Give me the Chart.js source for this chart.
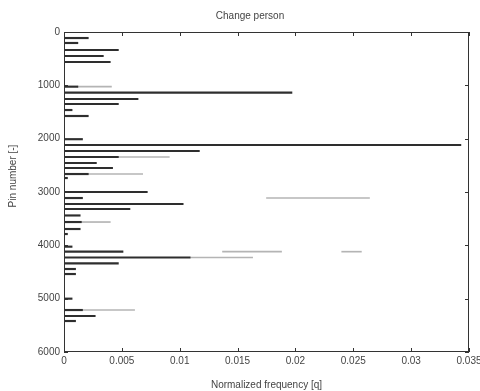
<!DOCTYPE html>
<html>
<head>
<meta charset="utf-8">
<script src="https://cdn.jsdelivr.net/npm/chart.js@4/dist/chart.umd.min.js"></script>
<style>
  html, body { margin: 0; padding: 0; background: #fff; }
  canvas { display: block; }
</style>
</head>
<body>
<canvas id="chart" width="480" height="391"></canvas>
<script>
// rows (pin number) and normalized frequency of each row
const rows = [113, 206, 338, 450, 563,
  1025, 1138, 1256, 1350, 1463, 1575,
  2010, 2119, 2231, 2344, 2456, 2550, 2663, 2738,
  3000, 3113, 3225, 3319, 3440, 3563, 3694, 3788,
  4025, 4119, 4228, 4338, 4444, 4538,
  5000, 5213, 5325, 5419];
const freq = [0.0021, 0.0012, 0.0047, 0.0034, 0.0040,
  0.0012, 0.0197, 0.0064, 0.0047, 0.0007, 0.0021,
  0.0016, 0.0343, 0.0117, 0.0047, 0.0028, 0.0042, 0.0021, 0.0003,
  0.0072, 0.0016, 0.0103, 0.0057, 0.0014, 0.0015, 0.0014, 0.0003,
  0.0007, 0.0051, 0.0109, 0.0047, 0.0010, 0.0010,
  0.0007, 0.0016, 0.0027, 0.0010];

// lighter segments (start / end) of some rows
const faintRows  = [1025, 2344, 2663, 3113, 3563, 4119, 4119, 4228, 5213];
const faintStart = [0.0012, 0.0047, 0.0021, 0.0175, 0.0015, 0.0137, 0.0240, 0.0109, 0.0016];
const faintEnd   = [0.0041, 0.0091, 0.0068, 0.0264, 0.0040, 0.0188, 0.0257, 0.0163, 0.0061];

const xTicks = [0, 0.005, 0.01, 0.015, 0.02, 0.025, 0.03, 0.035];
const xTickLabels = ['0', '0.005', '0.01', '0.015', '0.02', '0.025', '0.03', '0.035'];
const yTicks = [0, 1000, 2000, 3000, 4000, 5000, 6000];

const FONT = { family: '"Liberation Sans", Arial, sans-serif', size: 10, weight: 'normal' };
const INK = '#444';

// box around the plot with short inward ticks on every side
const framePlugin = {
  id: 'frame',
  afterDatasetsDraw(chart) {
    const { ctx, chartArea: a, scales } = chart;
    const len = 4;
    ctx.save();
    ctx.strokeStyle = '#333';
    ctx.lineWidth = 1;
    ctx.strokeRect(a.left + 0.5, a.top + 0.5, a.right - a.left - 1, a.bottom - a.top - 1);
    ctx.beginPath();
    xTicks.forEach(v => {
      const px = Math.round(scales.x.getPixelForValue(v)) + 0.5;
      ctx.moveTo(px, a.bottom); ctx.lineTo(px, a.bottom - len);
      ctx.moveTo(px, a.top); ctx.lineTo(px, a.top + len);
    });
    yTicks.forEach(v => {
      const py = Math.round(scales.y.getPixelForValue(v)) + 0.5;
      ctx.moveTo(a.left, py); ctx.lineTo(a.left + len, py);
      ctx.moveTo(a.right, py); ctx.lineTo(a.right - len, py);
    });
    ctx.stroke();
    ctx.restore();
  }
};

new Chart(document.getElementById('chart'), {
  type: 'bar',
  data: {
    datasets: [
      {
        data: rows.map((r, i) => ({ x: freq[i], y: r })),
        backgroundColor: '#2e2e2e',
        barThickness: 1.5,
        order: 1
      },
      {
        data: faintRows.map((r, i) => ({ x: [faintStart[i], faintEnd[i]], y: r })),
        backgroundColor: '#b4b4b4',
        barThickness: 1,
        order: 2
      }
    ]
  },
  options: {
    indexAxis: 'y',
    responsive: false,
    animation: false,
    grouped: false,
    layout: { padding: { top: 2, right: 0, bottom: 0, left: 20 } },
    plugins: {
      legend: { display: false },
      tooltip: { enabled: false },
      title: {
        display: true,
        text: 'Change person',
        color: INK,
        font: FONT,
        padding: { top: 8, bottom: 10 }
      }
    },
    scales: {
      x: {
        type: 'linear',
        min: 0,
        max: 0.035,
        offset: false,
        grid: { display: false, drawTicks: false },
        border: { display: false },
        afterBuildTicks: s => { s.ticks = xTicks.map(v => ({ value: v })); },
        afterFit: s => { s.height = 39; s.paddingRight = 11; },
        ticks: {
          color: INK,
          font: FONT,
          padding: 3,
          maxRotation: 0,
          callback: (v, i) => xTickLabels[i]
        },
        title: {
          display: true,
          text: 'Normalized frequency [q]',
          color: INK,
          font: FONT,
          padding: { top: 12, bottom: 0 }
        }
      },
      y: {
        type: 'linear',
        reverse: true,
        min: 0,
        max: 6000,
        offset: false,
        grid: { display: false, drawTicks: false, offset: false },
        border: { display: false },
        afterBuildTicks: s => { s.ticks = yTicks.map(v => ({ value: v })); },
        afterFit: s => { s.width = 44; },
        ticks: {
          color: INK,
          font: FONT,
          padding: 4,
          callback: v => String(v)
        },
        title: {
          display: false
        }
      }
    }
  },
  plugins: [framePlugin, {
    // vertical axis name, set a little above the middle of the axis
    id: 'yName',
    afterDraw(chart) {
      const { ctx, chartArea: a } = chart;
      ctx.save();
      ctx.translate(13, (a.top + a.bottom) / 2 - 16);
      ctx.rotate(-Math.PI / 2);
      ctx.fillStyle = INK;
      ctx.font = '10px "Liberation Sans", Arial, sans-serif';
      ctx.textAlign = 'center';
      ctx.textBaseline = 'middle';
      ctx.fillText('Pin number [-]', 0, 0);
      ctx.restore();
    }
  }]
});
</script>
</body>
</html>
